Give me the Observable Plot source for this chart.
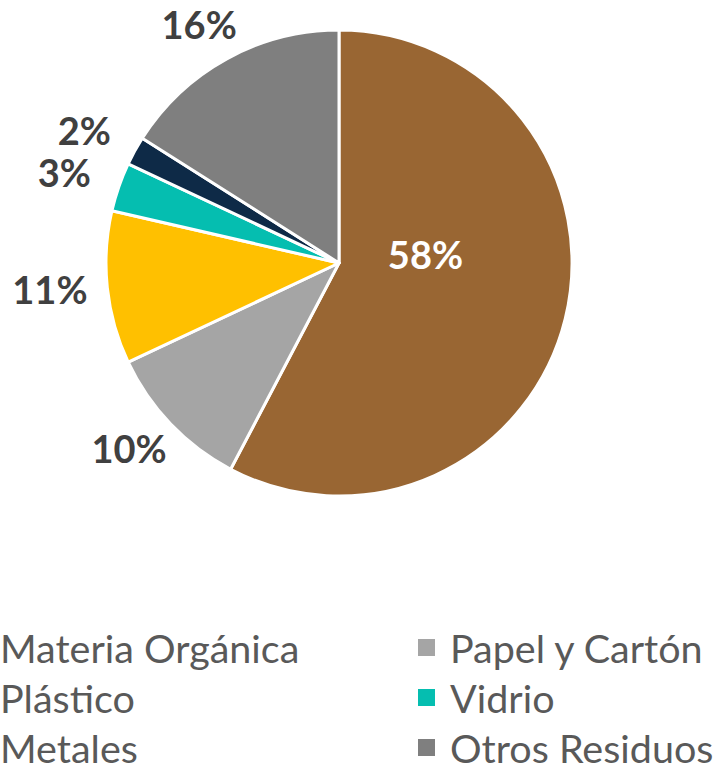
<!DOCTYPE html>
<html><head><meta charset="utf-8">
<script src="https://cdn.jsdelivr.net/npm/d3@7"></script>
<script src="https://cdn.jsdelivr.net/npm/@observablehq/plot@0.6"></script>
<style>
body{margin:0;background:#fff;overflow:hidden;width:714px;height:765px;font-family:Lato,sans-serif}
#legend{position:relative;margin-left:-32px;padding-top:92px;display:grid;grid-template-columns:450px 450px;}
.item{height:50px;display:flex;align-items:center;font-size:39.5px;color:#595959;white-space:nowrap}
.sw{width:17px;height:17px;margin-right:15px;flex:none}
</style></head><body><div id="chart"></div><div id="legend"></div>
<script>
const categories = ["Materia Orgánica","Papel y Cartón","Plástico","Vidrio","Metales","Otros Residuos"];
const values = [57.7,10.3,10.6,3.4,2.0,16.0];
const colors = ["#996633","#A5A5A5","#FFC000","#05BEB0","#0E2A47","#7F7F7F"];
const labels = values.map(v => Math.round(v) + "%");

const data = categories.map((c,i) => ({category:c, value:values[i], color:colors[i], label:labels[i]}));
const arcs = d3.pie().sort(null).value(d => d.value)(data);
const mid = a => (a.startAngle + a.endAngle) / 2;
// outside-end labels: pushed out along the slice's mid-angle (wider horizontally, as the label boxes are wide)
const outside = arcs.filter((a,i) => i > 0).map(a => ({label:a.data.label, x:1.25*Math.sin(mid(a)), y:1.16*Math.cos(mid(a))}));
const inside = arcs.filter((a,i) => i === 0).map(a => ({label:a.data.label, x:0.38*Math.sin(mid(a)), y:0.38*Math.cos(mid(a))}));

function pieMark(index, scales) {
  const cx = scales.x(0), cy = scales.y(0), R = scales.x(1) - cx;
  const arc = d3.arc().innerRadius(0).outerRadius(R);
  const g = d3.create("svg:g").attr("transform", `translate(${cx},${cy})`);
  g.selectAll("path").data(arcs).join("path")
    .attr("d", arc).attr("fill", d => d.data.color)
    .attr("stroke", "white").attr("stroke-width", 3).attr("stroke-linejoin", "round");
  return g.node();
}

const chart = Plot.plot({
  width: 714, height: 530,
  marginLeft: 106, marginRight: 142, marginTop: 30, marginBottom: 34,
  x: {domain: [-1, 1], axis: null},
  y: {domain: [-1, 1], axis: null},
  marks: [
    pieMark,
    Plot.text(outside, {x:"x", y:"y", text:"label", fill:"#404040", fontSize:38, fontWeight:"bold", fontFamily:"Lato"}),
    Plot.text(inside, {x:"x", y:"y", text:"label", fill:"white", fontSize:38, fontWeight:"bold", fontFamily:"Lato", dy:-28})
  ]
});
document.getElementById("chart").append(chart);

const legend = document.getElementById("legend");
data.forEach(d => {
  const item = document.createElement("div");
  item.className = "item";
  item.innerHTML = `<span class="sw" style="background:${d.color}"></span><span>${d.category}</span>`;
  legend.append(item);
});
</script></body></html>
